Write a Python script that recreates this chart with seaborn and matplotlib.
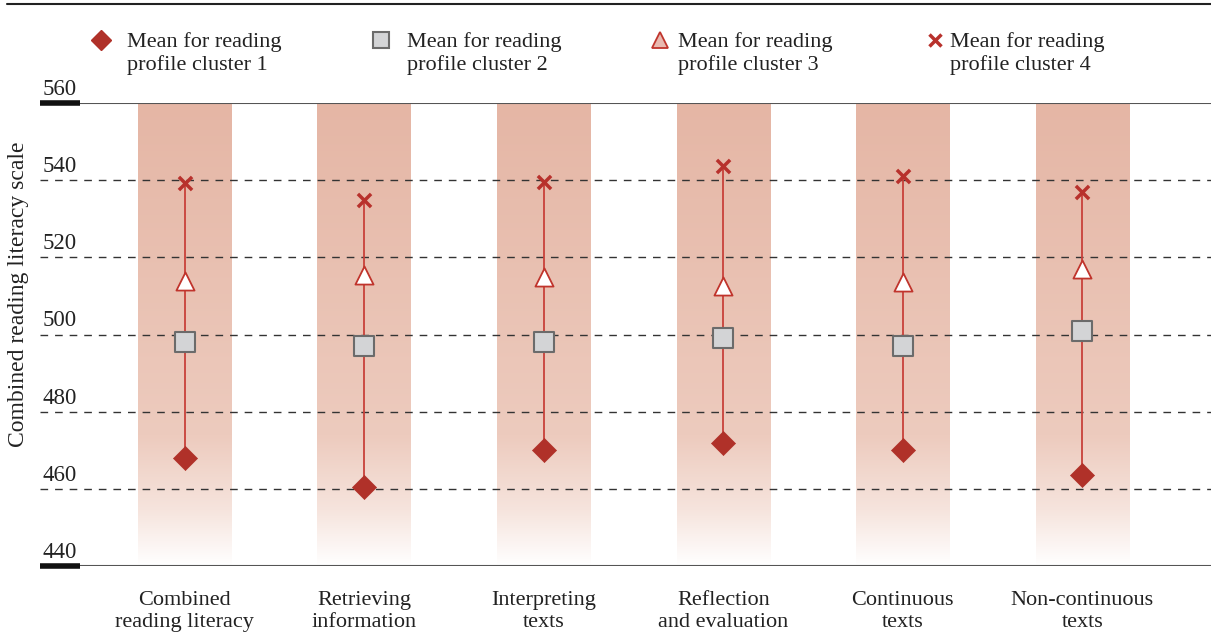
import numpy as np
import pandas as pd
import matplotlib
matplotlib.use("Agg")
import matplotlib.pyplot as plt
from matplotlib.colors import LinearSegmentedColormap
from matplotlib.lines import Line2D
import seaborn as sns

categories = ["Combined\nreading literacy", "Retrieving\ninformation", "Interpreting\ntexts",
              "Reflection\nand evaluation", "Continuous\ntexts", "Non-continuous\ntexts"]
cluster1 = [468, 460.5, 470, 472, 470, 463.5]
cluster2 = [498, 497, 498, 499, 497, 501]
cluster3 = [514, 515.5, 515, 512.7, 513.7, 517]
cluster4 = [539.3, 535, 539.5, 543.7, 541, 537]
legend_labels = ["Mean for reading\nprofile cluster 1", "Mean for reading\nprofile cluster 2",
                 "Mean for reading\nprofile cluster 3", "Mean for reading\nprofile cluster 4"]
yticks = [440, 460, 480, 500, 520, 540, 560]

sns.set_theme(style="white")
plt.rcParams['font.family'] = ['Liberation Serif', 'DejaVu Serif']

fig = plt.figure(figsize=(12.11, 6.33), dpi=100)
ax = fig.add_axes([0.033, 0.106, 0.967, 0.731])

x = np.arange(len(categories))
ax.set_xlim(-0.805, 5.716)
ax.set_ylim(440, 560)

# gradient bands
cmap = LinearSegmentedColormap.from_list("band", [
    (0.0, "#ffffff"), (0.12, "#f6e4dd"), (0.28, "#edcbbe"), (1.0, "#e5b6a5")])
grad = np.linspace(0, 1, 256).reshape(-1, 1)
bw = 0.52
for xi in x:
    ax.imshow(grad, aspect="auto", cmap=cmap, origin="lower",
              extent=(xi - bw / 2, xi + bw / 2, 440, 560), zorder=0, interpolation="bicubic")

# grid lines
for yv in [460, 480, 500, 520, 540]:
    ax.axhline(yv, color="#333333", lw=1.0, ls=(0, (5.5, 5)), zorder=1)
ax.axhline(560, color="#555555", lw=1.5, zorder=1)
ax.axhline(440, color="#555555", lw=1.5, zorder=1)
trans = matplotlib.transforms.blended_transform_factory(ax.transAxes, ax.transData)
for yv in [440, 560]:
    ax.plot([0, 0.034], [yv, yv], color="#111111", lw=4, transform=trans, zorder=3,
            solid_capstyle="butt", clip_on=False)
for yv in yticks:
    ax.text(0.002, yv + 0.8, str(yv), transform=trans, ha="left", va="bottom",
            fontsize=16.5, color="#222222")

# vertical connecting lines
lo = np.minimum.reduce([cluster1, cluster2, cluster3, cluster4])
hi = np.maximum.reduce([cluster1, cluster2, cluster3, cluster4])
ax.vlines(x, lo, hi, color="#c8413a", lw=1.3, zorder=2)

df = pd.DataFrame({"x": np.tile(x, 4),
                   "value": cluster1 + cluster2 + cluster3 + cluster4,
                   "cluster": np.repeat(["1", "2", "3", "4"], len(x))})

styles = {
    "1": dict(marker="D", s=150, color="#b03129", edgecolor="#b03129", linewidth=0.5),
    "2": dict(marker="s", s=200, color="#d3d4d6", edgecolor="#6b6b6b", linewidth=1.5),
    "3": dict(marker="^", s=170, color="#ffffff", edgecolor="#c0342c", linewidth=1.3),
    "4": dict(marker="x", s=90, color="#b8312c", linewidth=2.5),
}
for c, st in styles.items():
    sub = df[df.cluster == c]
    sns.scatterplot(data=sub, x="x", y="value", ax=ax, zorder=4, legend=False, **st)

ax.set_xticks(x)
ax.set_xticklabels(categories, fontsize=16, color="#222222", linespacing=1.2)
ax.tick_params(axis="x", length=0, pad=18)
ax.set_yticks([])
ax.set_xlabel("")
ax.set_ylabel("")
for sp in ax.spines.values():
    sp.set_visible(False)

fig.text(0.015, 0.535, "Combined reading literacy scale", rotation=90, ha="center",
         va="center", fontsize=17, color="#222222")

# top border line
fig.add_artist(Line2D([0.006, 1.0], [0.993, 0.993], color="#222222", lw=1.5))

# legend
leg_mx = [101, 381, 660, 935]
leg_tx = [127, 407, 678, 950]
W, H = 1211, 633
leg_st = [
    dict(marker="D", markersize=10, color="#b03129", mec="#b03129"),
    dict(marker="s", markersize=11, color="#d3d4d6", mec="#6b6b6b", mew=1.5),
    dict(marker="^", markersize=11, color="#e9b9b0", mec="#c0342c", mew=1.3),
    dict(marker="x", markersize=8, color="#b8312c", mew=2.5),
]
for mx, tx, lab, st in zip(leg_mx, leg_tx, legend_labels, leg_st):
    fig.add_artist(Line2D([mx / W], [1 - 40 / H], ls="none", transform=fig.transFigure, **st))
    fig.text(tx / W, 1 - 32 / H, lab, ha="left", va="top", fontsize=16,
             color="#222222", linespacing=1.2)

fig.savefig("out.png", dpi=100)
